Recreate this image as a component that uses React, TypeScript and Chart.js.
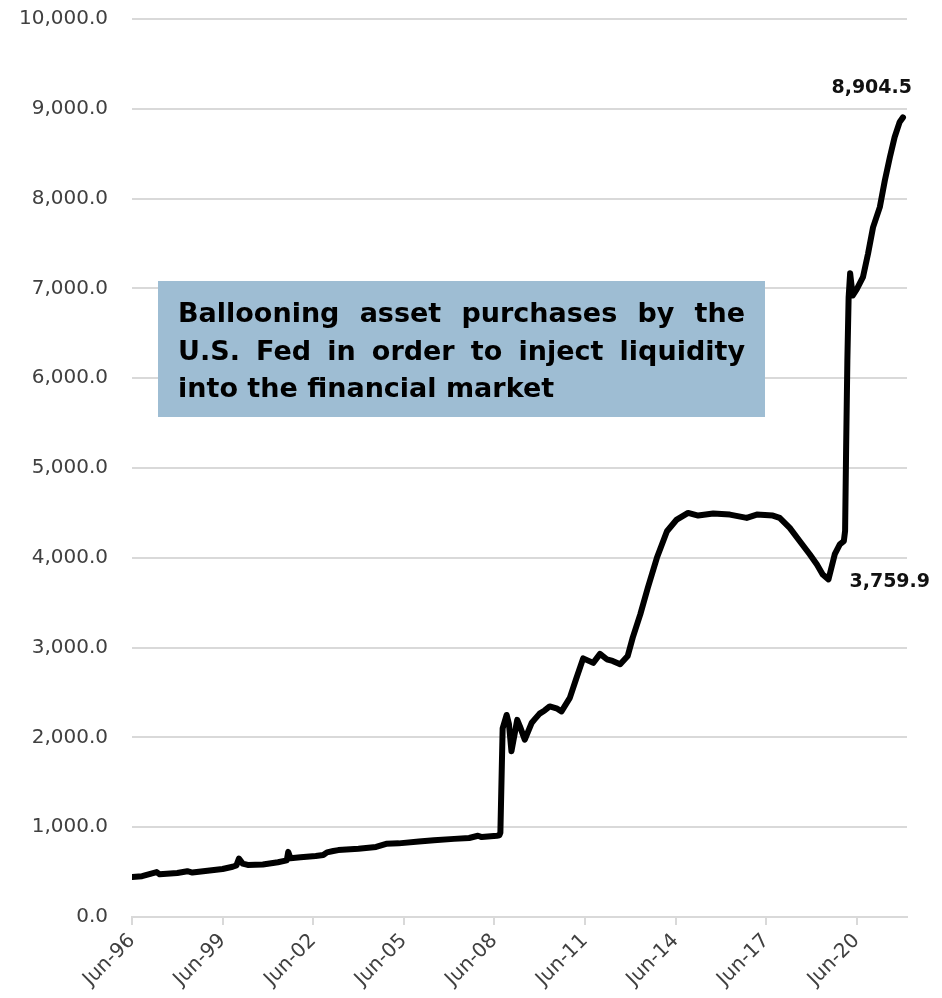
import { useEffect, useRef } from "react";
import { Chart, registerables } from "chart.js";

Chart.register(...registerables);

// Observation dates, expressed as months elapsed since June 1996
const monthsSinceJun96 = [
  0, 4, 9.8, 11, 18, 22, 24, 30, 36, 40, 41.5, 42.5, 44, 46, 52, 58, 61.5, 62.1, 63, 67,
  73, 76, 77.5, 80, 82, 90, 97, 101, 106, 114, 120, 128, 134, 137.5, 139, 145, 146,
  146.4, 147.3, 148.9, 149.8, 150.8, 153.1, 154.2, 156.1, 158.8, 160, 162, 164, 166,
  169, 170.7, 174, 176.5, 179.3, 183.3, 186, 188.7, 191, 194, 197, 199, 202, 205,
  208.6, 212.6, 216.5, 221, 225, 231, 237.6, 244.3, 248.3, 254.7, 257.4, 261.4,
  265.4, 269.4, 272.2, 274.5, 276.8, 279.3, 281.3, 282.9, 283.4, 283.8, 284.3, 284.8,
  285.4, 286.4, 288, 290.5, 292.5, 294.5, 297.2, 299.2, 301.2, 303.1, 305.1, 306.4,
];

// Federal Reserve total assets (US$ billion)
const totalAssets = [
  446, 455, 500, 475, 490, 510, 495, 515, 535, 560, 575, 650, 595, 580, 585, 610, 630, 725, 655, 665,
  680, 690, 720, 735, 745, 760, 780, 815, 820, 840, 855, 870, 880, 905, 890, 905, 910,
  940, 2100, 2250, 2150, 1845, 2195, 2120, 1975, 2160, 2200, 2265, 2300, 2345,
  2320, 2290, 2440, 2650, 2880, 2830, 2930, 2870, 2852, 2815, 2907, 3111, 3370, 3667,
  4000, 4296, 4426, 4500, 4470, 4493, 4481, 4444, 4481, 4470, 4444, 4333,
  4185, 4037, 3926, 3815, 3759.9, 4040, 4150, 4185, 4300, 5200, 6200, 6900,
  7170, 6920, 6990, 7125, 7385, 7680, 7905, 8203, 8463, 8686, 8854, 8904.5,
];

// Ticks along the time axis
const tickMonths = [0, 36, 72, 108, 144, 180, 216, 252, 288];
const tickLabels = ["Jun-96", "Jun-99", "Jun-02", "Jun-05", "Jun-08", "Jun-11", "Jun-14", "Jun-17", "Jun-20"];

const calloutLines = [
  "Ballooning asset purchases by the",
  "U.S. Fed in order to inject liquidity",
  "into the financial market",
];

const FONT = "'DejaVu Sans', 'Open Sans', sans-serif";
const GRID = "#d9d9d9";
const TEXT = "#404040";

const fmt1 = (v: number) =>
  v.toLocaleString("en-US", { minimumFractionDigits: 1, maximumFractionDigits: 1 });

const lastIndex = totalAssets.length - 1;
// Trough of the 2018-19 balance sheet run-off
const troughIndex = (() => {
  let best = -1;
  monthsSinceJun96.forEach((m, i) => {
    if (m > 250 && m < 284 && (best < 0 || totalAssets[i] < totalAssets[best])) best = i;
  });
  return best;
})();

const valueLabelPlugin = {
  id: "valueLabels",
  afterDatasetsDraw(chart: any) {
    const meta = chart.getDatasetMeta(0);
    const ctx = chart.ctx as CanvasRenderingContext2D;
    ctx.save();
    ctx.font = `bold 19px ${FONT}`;
    ctx.fillStyle = "#111";
    ctx.textBaseline = "middle";

    const end = meta.data[lastIndex];
    ctx.textAlign = "right";
    ctx.fillText(fmt1(totalAssets[lastIndex]), end.x + 9, end.y - 29);

    const low = meta.data[troughIndex];
    ctx.textAlign = "left";
    ctx.fillText(fmt1(totalAssets[troughIndex]), low.x + 21, low.y + 3);
    ctx.restore();
  },
};

function drawJustified(ctx: CanvasRenderingContext2D, text: string, x: number, y: number, width: number) {
  const words = text.split(" ");
  const widths = words.map((w) => ctx.measureText(w).width);
  const total = widths.reduce((a, b) => a + b, 0);
  const gap = words.length > 1 ? (width - total) / (words.length - 1) : 0;
  let cx = x;
  words.forEach((w, i) => {
    ctx.fillText(w, cx, y);
    cx += widths[i] + gap;
  });
}

const calloutPlugin = {
  id: "callout",
  beforeDatasetsDraw(chart: any) {
    const { ctx, chartArea } = chart;
    const left = chartArea.left + 26;
    const top = chartArea.top + 262;
    const w = 607;
    const h = 136;
    ctx.save();
    ctx.fillStyle = "rgb(158,189,211)";
    ctx.fillRect(left, top, w, h);
    ctx.fillStyle = "#000";
    ctx.font = `bold 27px ${FONT}`;
    ctx.textBaseline = "alphabetic";
    ctx.textAlign = "left";
    const pad = 20;
    const baselines = [41, 79, 116];
    calloutLines.forEach((line, i) => {
      if (i < calloutLines.length - 1) {
        drawJustified(ctx, line, left + pad, top + baselines[i], w - pad * 2);
      } else {
        ctx.fillText(line, left + pad, top + baselines[i]);
      }
    });
    ctx.restore();
  },
};

export default function App() {
  const canvasRef = useRef<HTMLCanvasElement | null>(null);

  useEffect(() => {
    document.body.style.margin = "0";
    const canvas = canvasRef.current;
    if (!canvas) return;

    const chart = new Chart(canvas, {
      type: "line",
      data: {
        datasets: [
          {
            data: monthsSinceJun96.map((m, i) => ({ x: m, y: totalAssets[i] })),
            borderColor: "#000",
            borderWidth: 6,
            pointRadius: 0,
            tension: 0,
            borderJoinStyle: "round",
            borderCapStyle: "round",
            fill: false,
          },
        ],
      },
      options: {
        responsive: false,
        animation: false,
        devicePixelRatio: 1,
        layout: { padding: { top: 19, right: 35, left: 0, bottom: 0 } },
        plugins: {
          legend: { display: false },
          tooltip: { enabled: false },
        },
        scales: {
          x: {
            type: "linear",
            min: 0,
            max: 308,
            afterBuildTicks: (scale: any) => {
              scale.ticks = tickMonths.map((v) => ({ value: v }));
            },
            afterFit: (scale: any) => {
              scale.height = 81;
              scale.paddingLeft = 0;
              scale.paddingRight = 0;
            },
            ticks: {
              autoSkip: false,
              maxRotation: 45,
              minRotation: 45,
              padding: 4,
              color: TEXT,
              font: { family: FONT, size: 20 },
              callback: (v: any) => {
                const idx = tickMonths.indexOf(Number(v));
                return idx >= 0 ? tickLabels[idx] : "";
              },
            },
            grid: {
              drawOnChartArea: false,
              drawTicks: true,
              tickLength: 8,
              color: GRID,
              lineWidth: 2,
            },
            border: { display: true, color: GRID, width: 2 },
          },
          y: {
            min: 0,
            max: 10000,
            afterFit: (scale: any) => {
              scale.width = 132;
              scale.paddingTop = 0;
              scale.paddingBottom = 0;
            },
            ticks: {
              stepSize: 1000,
              padding: 24,
              color: TEXT,
              font: { family: FONT, size: 20 },
              callback: (v: any) => fmt1(Number(v)),
            },
            grid: { color: GRID, lineWidth: 2, drawTicks: false },
            border: { display: false },
          },
        },
      },
      plugins: [calloutPlugin, valueLabelPlugin],
    } as any);

    return () => chart.destroy();
  }, []);

  return (
    <div style={{ width: 942, height: 998 }}>
      <canvas ref={canvasRef} width={942} height={998} />
    </div>
  );
}
